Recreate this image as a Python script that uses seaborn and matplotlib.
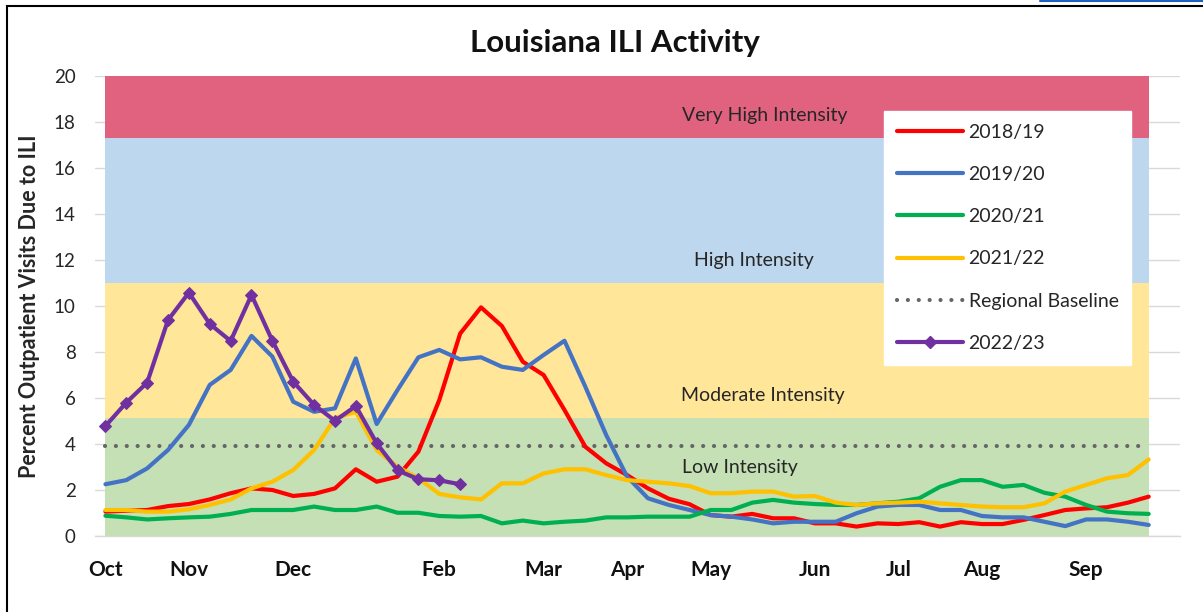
import matplotlib
matplotlib.use("Agg")
import matplotlib.pyplot as plt
import seaborn as sns
import numpy as np
import pandas as pd
from matplotlib.lines import Line2D
from matplotlib.patches import Rectangle

# ---------------- data ----------------
season_labels = ["2018/19", "2019/20", "2020/21", "2021/22", "2022/23"]

s2018_19 = [1.06, 1.10, 1.13, 1.30, 1.39, 1.59, 1.86, 2.07, 2.00, 1.74,
            1.83, 2.07, 2.90, 2.36, 2.58, 3.67, 5.91, 8.80, 9.94, 9.13,
            7.58, 7.00, 5.48, 3.88, 3.16, 2.65, 2.07, 1.62, 1.38, 0.91,
            0.84, 0.96, 0.77, 0.77, 0.55, 0.55, 0.41, 0.55, 0.52, 0.60,
            0.41, 0.60, 0.52, 0.52, 0.70, 0.91, 1.13, 1.20, 1.25, 1.45,
            1.71]
s2019_20 = [2.25, 2.43, 2.94, 3.74, 4.83, 6.57, 7.22, 8.70, 7.80, 5.84,
            5.40, 5.55, 7.72, 4.87, 6.35, 7.77, 8.09, 7.68, 7.77, 7.36,
            7.22, 7.87, 8.49, 6.49, 4.39, 2.58, 1.64, 1.35, 1.13, 0.91,
            0.84, 0.72, 0.55, 0.62, 0.62, 0.62, 0.99, 1.28, 1.35, 1.35,
            1.13, 1.13, 0.87, 0.81, 0.81, 0.62, 0.43, 0.72, 0.72, 0.62,
            0.48]
s2020_21 = [0.88, 0.81, 0.72, 0.77, 0.81, 0.84, 0.96, 1.13, 1.13, 1.13,
            1.28, 1.13, 1.13, 1.28, 1.01, 1.01, 0.87, 0.84, 0.87, 0.55,
            0.67, 0.55, 0.62, 0.67, 0.81, 0.81, 0.84, 0.84, 0.84, 1.13,
            1.13, 1.45, 1.57, 1.45, 1.39, 1.35, 1.35, 1.42, 1.49, 1.64,
            2.14, 2.43, 2.43, 2.14, 2.22, 1.88, 1.71, 1.35, 1.06, 0.99,
            0.96]
s2021_22 = [1.13, 1.13, 1.06, 1.06, 1.16, 1.35, 1.59, 2.07, 2.36, 2.87,
            3.74, 5.12, 5.40, 3.74, 3.01, 2.51, 1.83, 1.68, 1.59, 2.29,
            2.29, 2.72, 2.90, 2.90, 2.65, 2.43, 2.36, 2.29, 2.17, 1.86,
            1.86, 1.93, 1.93, 1.71, 1.74, 1.45, 1.35, 1.42, 1.45, 1.49,
            1.42, 1.35, 1.28, 1.25, 1.25, 1.42, 1.93, 2.22, 2.51, 2.65,
            3.33]
s2022_23 = [4.78, 5.80, 6.67, 9.39, 10.58, 9.22, 8.48, 10.48, 8.49, 6.71,
            5.70, 5.01, 5.65, 4.03, 2.85, 2.47, 2.42, 2.25]

regional_baseline = 3.9
band_edges = [0.0, 5.13, 11.0, 17.3, 20.0]
band_names = ["Low Intensity", "Moderate Intensity", "High Intensity", "Very High Intensity"]

n_categories = 52
month_labels = ["Oct", "Nov", "Dec", "Feb", "Mar", "Apr", "May", "Jun", "Jul", "Aug", "Sep"]
month_weeks = [0, 4, 9, 16, 21, 25, 29, 34, 38, 42, 47]

# ---------------- style ----------------
sns.set_style("white")
plt.rcParams["font.family"] = ["Lato", "DejaVu Sans"]

series_colors = ["#FF0000", "#4472C4", "#00B050", "#FFC000", "#7030A0"]
band_colors = ["#C5E0B4", "#FFE699", "#BDD7EE", "#E0627F"]
text_dark = "#262626"

W, H = 1203, 612
fig = plt.figure(figsize=(W / 100, H / 100), dpi=100)
ax = fig.add_axes([95 / W, 1 - 536 / H, (1180 - 95) / W, (536 - 76) / H])

weeks = np.arange(len(s2018_19))

# intensity bands
for lo, hi, col in zip(band_edges[:-1], band_edges[1:], band_colors):
    ax.fill_between([weeks[0], weeks[-1]], [lo, lo], [hi, hi], color=col, lw=0, zorder=1)

band_text_pos = [(30.4, 3.0), (31.5, 6.09), (31.1, 11.96), (31.6, 18.3)]
for name, (bx, by) in zip(band_names, band_text_pos):
    ax.text(bx, by, name, ha="center", va="center", fontsize=14, color=text_dark, zorder=2)

# regional baseline
base_x = [weeks[0], weeks[-1]]
ax.plot(base_x, [regional_baseline] * 2, color="#666666", lw=3.0,
        linestyle=(0, (0.01, 2.6)), dash_capstyle="round", zorder=3)

# season lines
series = [s2018_19, s2019_20, s2020_21, s2021_22]
for vals, col in zip(series, series_colors[:4]):
    sns.lineplot(x=np.arange(len(vals)), y=vals, color=col, lw=3.0, ax=ax,
                 legend=False, zorder=4)
sns.lineplot(x=np.arange(len(s2022_23)), y=s2022_23, color=series_colors[4], lw=3.0,
             marker="D", markersize=6.5, markeredgecolor=series_colors[4], ax=ax,
             legend=False, zorder=5)

# axes
ax.set_xlim(-0.5, n_categories - 0.5)
ax.set_ylim(0, 20)
ax.set_yticks(np.arange(0, 21, 2))
ax.yaxis.grid(True, color="#D9D9D9", lw=1)
ax.xaxis.grid(False)
ax.set_axisbelow(True)
for s in ["top", "right", "left"]:
    ax.spines[s].set_visible(False)
ax.spines["bottom"].set_color("#D9D9D9")
ax.spines["bottom"].set_linewidth(1)

ax.set_xticks(month_weeks)
ax.set_xticklabels(month_labels, fontsize=15, fontweight="bold")
ax.set_xticks(np.arange(-0.5, n_categories, 1), minor=True)
ax.tick_params(axis="x", which="major", length=0, pad=17, labelcolor="#111111")
ax.tick_params(axis="x", which="minor", length=6, color="#D9D9D9", width=1, direction="out")
ax.tick_params(axis="y", length=0, pad=14, labelsize=13.5, labelcolor=text_dark)
ax.set_xlabel("")
ax.set_ylabel("Percent Outpatient Visits Due to ILI", fontsize=15.5, fontweight="bold",
              color=text_dark)
ax.yaxis.set_label_coords((40 - 95) / (1180 - 95), 0.5)

# title
fig.text(615 / W, 1 - 43 / H, "Louisiana ILI Activity", ha="center", va="center",
         fontsize=22.5, fontweight="bold", color="#111111")

# legend
handles = [Line2D([], [], color=c, lw=3.0) for c in series_colors[:4]]
handles.append(Line2D([], [], color="#666666", lw=3.0, linestyle=(0, (0.01, 2.6)),
                      dash_capstyle="round"))
handles.append(Line2D([], [], color=series_colors[4], lw=3.0, marker="D", markersize=6.5))
labels = season_labels[:4] + ["Regional Baseline", season_labels[4]]
leg = ax.legend(handles, labels, loc="upper left", bbox_to_anchor=(884 / W, 1 - 111 / H),
                bbox_transform=fig.transFigure, frameon=True, fancybox=False,
                framealpha=1, edgecolor="white", facecolor="white", fontsize=14,
                handlelength=3.4, handletextpad=0.3, labelspacing=1.3,
                borderpad=0.65, borderaxespad=0)
leg.set_zorder(10)
for t in leg.get_texts():
    t.set_color(text_dark)

# outer frame (chart border)
fig.patches.append(Rectangle((7 / W, -0.05), 1.2, (1 - 6 / H) + 0.05, transform=fig.transFigure,
                             fill=False, edgecolor="black", lw=1.5, zorder=20))
fig.lines.append(Line2D([1040 / W, 1.0], [1 - 0.8 / H, 1 - 0.8 / H], transform=fig.transFigure,
                        color="#1F5FBF", lw=1.5))

fig.savefig("out.png", dpi=100)
